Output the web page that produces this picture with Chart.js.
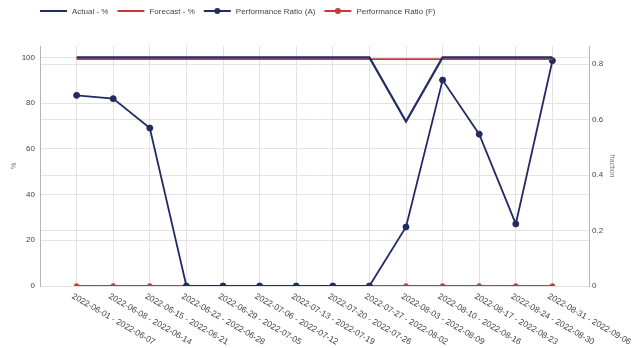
<!DOCTYPE html>
<html>
<head>
<meta charset="utf-8">
<script src="https://cdn.jsdelivr.net/npm/chart.js@4/dist/chart.umd.min.js"></script>
<style>
  html, body { margin: 0; padding: 0; background: #fff; }
  #wrap { width: 644px; height: 348px; }
</style>
</head>
<body>
<div id="wrap"><canvas id="chart" width="644" height="348"></canvas></div>
<script>
// weekly periods
const weeks = [
  "2022-06-01 - 2022-06-07", "2022-06-08 - 2022-06-14", "2022-06-15 - 2022-06-21",
  "2022-06-22 - 2022-06-28", "2022-06-29 - 2022-07-05", "2022-07-06 - 2022-07-12",
  "2022-07-13 - 2022-07-19", "2022-07-20 - 2022-07-26", "2022-07-27 - 2022-08-02",
  "2022-08-03 - 2022-08-09", "2022-08-10 - 2022-08-16", "2022-08-17 - 2022-08-23",
  "2022-08-24 - 2022-08-30", "2022-08-31 - 2022-09-06"
];

// availability, percent
const actualPct   = [100, 100, 100, 100, 100, 100, 100, 100, 100, 72, 100, 100, 100, 100];
const forecastPct = [99.3, 99.3, 99.3, 99.3, 99.3, 99.3, 99.3, 99.3, 99.3, 99.3, 99.3, 99.3, 99.3, 99.3];

// performance ratio, fraction
const prActual   = [0.688, 0.676, 0.570, 0, 0, 0, 0, 0, 0, 0.213, 0.743, 0.548, 0.224, 0.813];
const prForecast = [0, 0, 0, 0, 0, 0, 0, 0, 0, 0, 0, 0, 0, 0];

const NAVY = "#232b64";
const RED = "#c13b3d";
const FONT = "'Liberation Sans', Arial, sans-serif";

// one empty slot on each side keeps the first/last week off the axes
const pad = arr => [null, ...arr, null];
const labels = ["", ...weeks, ""];

// legend: short line sample, dot for the ratio series
const legendPlugin = {
  id: "lineLegend",
  afterDraw(chart) {
    const ctx = chart.ctx;
    let x = 40;
    const y = 11;
    ctx.save();
    ctx.font = "8px " + FONT;
    ctx.textBaseline = "middle";
    ctx.textAlign = "left";
    chart.data.datasets.forEach(ds => {
      ctx.strokeStyle = ds.borderColor;
      ctx.lineWidth = 2;
      ctx.beginPath();
      ctx.moveTo(x, y);
      ctx.lineTo(x + 27, y);
      ctx.stroke();
      if (ds.pointRadius > 0) {
        ctx.fillStyle = ds.borderColor;
        ctx.beginPath();
        ctx.arc(x + 13.5, y, 3, 0, Math.PI * 2);
        ctx.fill();
      }
      ctx.fillStyle = "#444";
      ctx.fillText(ds.label, x + 32, y + 0.5);
      x += 32 + ctx.measureText(ds.label).width + 9;
    });
    ctx.restore();
  }
};

// week labels slanting down to the right from each tick
const weekLabels = {
  id: "weekLabels",
  afterDraw(chart) {
    const ctx = chart.ctx;
    const xs = chart.scales.x;
    ctx.save();
    ctx.font = "8.5px " + FONT;
    ctx.fillStyle = "#444";
    ctx.textAlign = "left";
    ctx.textBaseline = "top";
    labels.forEach((lab, i) => {
      if (!lab) return;
      const px = xs.getPixelForTick(i);
      ctx.save();
      ctx.translate(px - 2, chart.chartArea.bottom + 6);
      ctx.rotate(Math.PI / 6);
      ctx.fillText(lab, 0, 0);
      ctx.restore();
    });
    ctx.restore();
  }
};

new Chart(document.getElementById("chart"), {
  type: "line",
  data: {
    labels,
    datasets: [
      {
        label: "Actual - %",
        data: pad(actualPct),
        yAxisID: "y",
        borderColor: NAVY,
        backgroundColor: NAVY,
        borderWidth: 2.2,
        pointRadius: 0,
        tension: 0
      },
      {
        label: "Forecast - %",
        data: pad(forecastPct),
        yAxisID: "y",
        borderColor: RED,
        backgroundColor: RED,
        borderWidth: 1.8,
        pointRadius: 0,
        tension: 0
      },
      {
        label: "Performance Ratio (A)",
        data: pad(prActual),
        yAxisID: "y1",
        borderColor: NAVY,
        backgroundColor: NAVY,
        borderWidth: 1.8,
        pointRadius: 3,
        pointBorderWidth: 1,
        tension: 0
      },
      {
        label: "Performance Ratio (F)",
        data: pad(prForecast),
        yAxisID: "y1",
        borderColor: RED,
        backgroundColor: RED,
        borderWidth: 1.8,
        pointRadius: 2.5,
        pointBorderWidth: 0.5,
        tension: 0
      }
    ]
  },
  options: {
    responsive: false,
    animation: false,
    layout: { autoPadding: false, padding: { top: 46, bottom: 62, left: 0, right: 0 } },
    plugins: {
      legend: { display: false },
      tooltip: { enabled: false }
    },
    scales: {
      x: {
        ticks: { display: false },
        grid: { color: "#e3e3e3", drawTicks: false },
        border: { display: false },
        afterFit(s) { s.height = 0; }
      },
      y: {
        position: "left",
        min: 0,
        max: 105,
        ticks: { stepSize: 20, includeBounds: false, padding: 5, color: "#444", font: { size: 8, family: FONT } },
        grid: { color: "#e3e3e3", drawTicks: false },
        border: { color: "#b5b5b5" },
        title: { display: true, text: "%", color: "#777", font: { size: 7, family: FONT }, padding: { top: 10 } },
        afterFit(s) { s.width = 40; }
      },
      y1: {
        position: "right",
        min: 0,
        max: 0.866,
        ticks: { stepSize: 0.2, includeBounds: false, padding: 3, color: "#444", font: { size: 8, family: FONT } },
        grid: { color: "#e3e3e3", drawTicks: false },
        border: { color: "#b5b5b5" },
        title: { display: true, text: "fraction", color: "#777", font: { size: 7, family: FONT }, padding: { top: 28 } },
        afterFit(s) { s.width = 55; }
      }
    }
  },
  plugins: [legendPlugin, weekLabels]
});
</script>
</body>
</html>
